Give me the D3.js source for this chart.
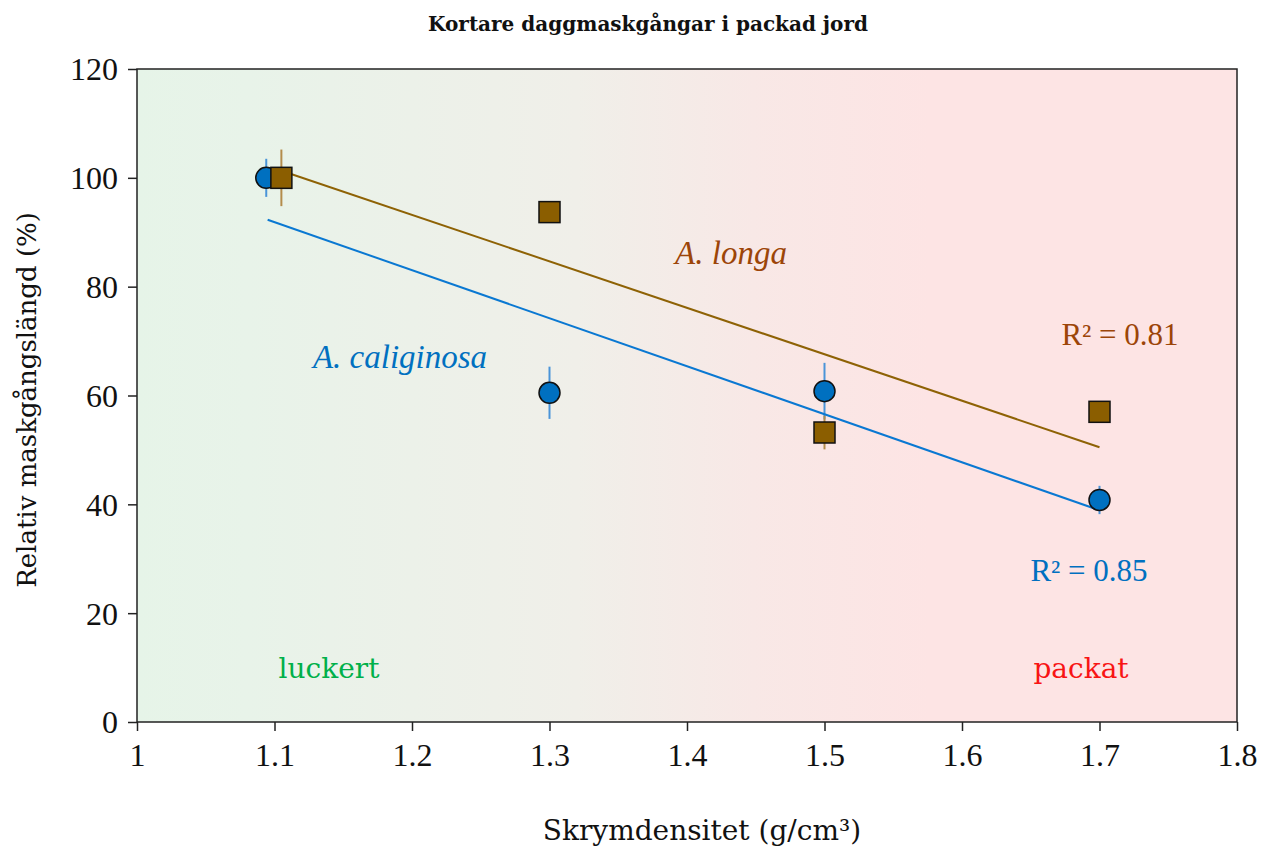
<!DOCTYPE html>
<html>
<head>
<meta charset="utf-8">
<script src="https://cdn.jsdelivr.net/npm/d3@7"></script>
<style>
  html, body { margin: 0; padding: 0; background: #ffffff; }
  svg { display: block; }
</style>
</head>
<body>
<svg id="chart" width="1271" height="848"></svg>
<script>
// ---- data ----
const chartTitle = "Kortare daggmaskgångar i packad jord";
const xTitle = "Skrymdensitet (g/cm³)";
const yTitle = "Relativ maskgångslängd (%)";
const xTicks = [1, 1.1, 1.2, 1.3, 1.4, 1.5, 1.6, 1.7, 1.8];
const yTicks = [0, 20, 40, 60, 80, 100, 120];

const calDensity = [1.094, 1.3, 1.5, 1.7];
const calValues = [100, 60.5, 60.8, 40.8];
const calErrors = [3.5, 4.8, 5.2, 2.6];

const longaDensity = [1.105, 1.3, 1.5, 1.7];
const longaValues = [100, 93.7, 53.2, 57.0];
const longaErrors = [5.2, 0.8, 3.1, 0.8];

const calTrendX = [1.095, 1.7];
const calTrendY = [92.3, 38.9];
const longaTrendX = [1.105, 1.7];
const longaTrendY = [101.3, 50.5];

const calR2 = "R² = 0.85";
const longaR2 = "R² = 0.81";

// ---- layout ----
const svg = d3.select("#chart");
const mLeft = 137, mRight = 1237, mTop = 69, mBottom = 722;
const x = d3.scaleLinear().domain([1, 1.8]).range([mLeft, mRight]);
const y = d3.scaleLinear().domain([0, 120]).range([mBottom, mTop]);
const serif = "'Liberation Serif', 'Times New Roman', serif";
const wide = "'DejaVu Serif', serif";

const blue = "#0070c0", blueErr = "#4a94d8", blueLine = "#0a78d2";
const brown = "#8b5e00", brownErr = "#b48c4c", brownLine = "#8e6205";
const textBrown = "#9c4508";

// background gradient
const defs = svg.append("defs");
const grad = defs.append("linearGradient").attr("id", "bg").attr("x1", "0").attr("x2", "1").attr("y1", "0").attr("y2", "0");
[["0", "#e6f4e8"], ["0.1", "#e8f3e9"], ["0.4", "#f0efe9"], ["0.56", "#f8e8e6"], ["0.72", "#fde4e4"], ["1", "#fde4e4"]]
  .forEach(([o, c]) => grad.append("stop").attr("offset", o).attr("stop-color", c));

svg.append("rect").attr("x", mLeft).attr("y", mTop).attr("width", mRight - mLeft).attr("height", mBottom - mTop)
  .attr("fill", "url(#bg)");

// title
svg.append("text").attr("x", 648).attr("y", 31).attr("text-anchor", "middle")
  .attr("font-family", wide).attr("font-weight", "bold").attr("font-size", 20).attr("fill", "#111")
  .text(chartTitle);

// axes
const xAxis = d3.axisBottom(x).tickValues(xTicks).tickSize(9).tickPadding(12).tickFormat(d3.format(""));
const gx = svg.append("g").attr("transform", `translate(0,${mBottom})`).call(xAxis);
const yAxis = d3.axisLeft(y).tickValues(yTicks).tickSize(9).tickPadding(10);
const gy = svg.append("g").attr("transform", `translate(${mLeft},0)`).call(yAxis);
[gx, gy].forEach(g => {
  g.select(".domain").remove();
  g.selectAll(".tick line").attr("stroke", "#222").attr("stroke-width", 1.5);
  g.selectAll(".tick text").attr("font-family", serif).attr("font-size", 32).attr("fill", "#111");
});
gx.selectAll(".tick text").attr("dy", "0.71em");
gy.selectAll(".tick text").attr("dy", "0.34em");

// frame
svg.append("rect").attr("x", mLeft).attr("y", mTop).attr("width", mRight - mLeft).attr("height", mBottom - mTop)
  .attr("fill", "none").attr("stroke", "#222").attr("stroke-width", 1.5);

// axis titles
svg.append("text").attr("x", 702).attr("y", 840).attr("text-anchor", "middle")
  .attr("font-family", wide).attr("font-size", 28).attr("fill", "#111").text(xTitle);
svg.append("text").attr("transform", "translate(36,400) rotate(-90)").attr("text-anchor", "middle")
  .attr("font-family", wide).attr("font-size", 26).attr("fill", "#111").text(yTitle);

// region labels
svg.append("text").attr("x", 329).attr("y", 678).attr("text-anchor", "middle")
  .attr("font-family", wide).attr("font-size", 28).attr("fill", "#00b04a").text("luckert");
svg.append("text").attr("x", 1081).attr("y", 678).attr("text-anchor", "middle")
  .attr("font-family", wide).attr("font-size", 28).attr("fill", "#f81414").text("packat");

// error bars
const calData = calDensity.map((d, i) => ({ x: d, y: calValues[i], e: calErrors[i] }));
const longaData = longaDensity.map((d, i) => ({ x: d, y: longaValues[i], e: longaErrors[i] }));

svg.append("g").selectAll("line").data(calData).join("line")
  .attr("x1", d => x(d.x)).attr("x2", d => x(d.x))
  .attr("y1", d => y(d.y + d.e)).attr("y2", d => y(d.y - d.e))
  .attr("stroke", blueErr).attr("stroke-width", 2);
svg.append("g").selectAll("line").data(longaData).join("line")
  .attr("x1", d => x(d.x)).attr("x2", d => x(d.x))
  .attr("y1", d => y(d.y + d.e)).attr("y2", d => y(d.y - d.e))
  .attr("stroke", brownErr).attr("stroke-width", 2);

// trend lines
const line = d3.line().x(d => x(d[0])).y(d => y(d[1]));
svg.append("path").attr("d", line(calTrendX.map((v, i) => [v, calTrendY[i]])))
  .attr("fill", "none").attr("stroke", blueLine).attr("stroke-width", 2);
svg.append("path").attr("d", line(longaTrendX.map((v, i) => [v, longaTrendY[i]])))
  .attr("fill", "none").attr("stroke", brownLine).attr("stroke-width", 2);

// markers
svg.append("g").selectAll("circle").data(calData).join("circle")
  .attr("cx", d => x(d.x)).attr("cy", d => y(d.y)).attr("r", 10.5)
  .attr("fill", blue).attr("stroke", "#111").attr("stroke-width", 1.5);
const sq = 21;
svg.append("g").selectAll("rect").data(longaData).join("rect")
  .attr("x", d => x(d.x) - sq / 2).attr("y", d => y(d.y) - sq / 2).attr("width", sq).attr("height", sq)
  .attr("fill", brown).attr("stroke", "#111").attr("stroke-width", 1.5);

// series labels
svg.append("text").attr("x", 731).attr("y", 264).attr("text-anchor", "middle")
  .attr("font-family", serif).attr("font-style", "italic").attr("font-size", 33).attr("fill", textBrown).text("A. longa");
svg.append("text").attr("x", 400).attr("y", 368).attr("text-anchor", "middle")
  .attr("font-family", serif).attr("font-style", "italic").attr("font-size", 33).attr("fill", blue).text("A. caliginosa");
svg.append("text").attr("x", 1120).attr("y", 345).attr("text-anchor", "middle")
  .attr("font-family", serif).attr("font-size", 31).attr("fill", textBrown).text(longaR2);
svg.append("text").attr("x", 1089).attr("y", 581).attr("text-anchor", "middle")
  .attr("font-family", serif).attr("font-size", 31).attr("fill", blue).text(calR2);
</script>
</body>
</html>
